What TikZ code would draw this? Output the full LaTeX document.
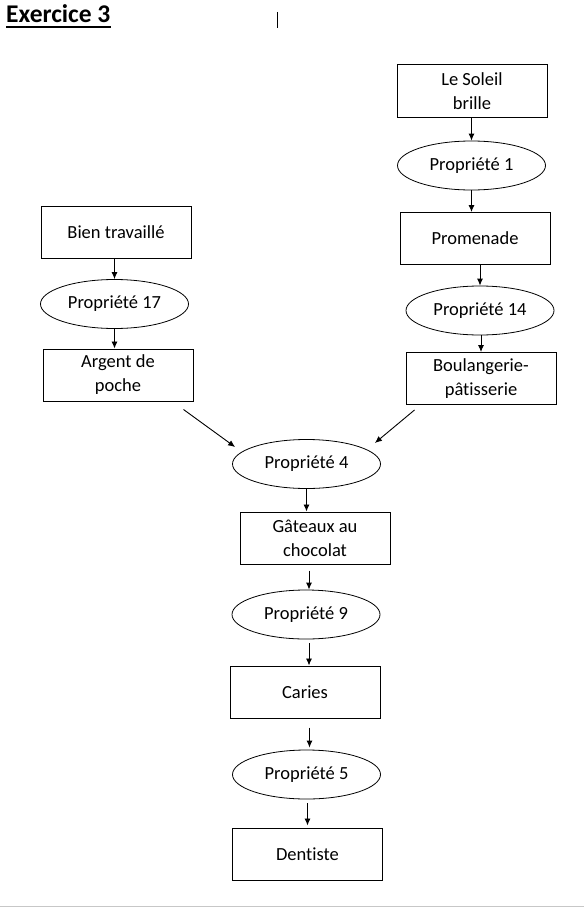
\documentclass[tikz,border=0pt]{standalone}
\usepackage{fontspec}
\setmainfont{Carlito}[Ligatures={NoCommon}]
\usetikzlibrary{shapes.geometric,arrows.meta}

\begin{document}
\begin{tikzpicture}[x=1pt,y=-1pt,
    box/.style={draw, line width=1pt, minimum width=150pt, minimum height=52pt,
        inner sep=0pt, align=center, font=\fontsize{18.5}{24}\selectfont},
    prop/.style={draw, ellipse, line width=0.8pt, minimum width=148pt,
        minimum height=49pt, inner sep=0pt, font=\fontsize{18.5}{24}\selectfont},
    arr/.style={-{Latex[length=7pt,width=6pt]}, line width=0.9pt}]
        \useasboundingbox (0,0) rectangle (584,907);
        %% Title
        \node[anchor=base west, inner sep=0pt, font=\fontsize{25.5}{28}\selectfont\bfseries]
            (titre) at (6,23) {Exercice 3};
        \draw[line width=2pt] ([yshift=-4pt]titre.base west) -- ([yshift=-4pt]titre.base east);
        \draw[line width=1pt] (277,12) -- (277,28);
        %% Right column
        \node[box] (soleil) at (472,91) {Le Soleil\\brille};
        \node[prop] (p1) at (471.5,165.5) {Propriété 1};
        \node[box] (promenade) at (475,238.5) {Promenade};
        \node[prop] (p14) at (480,310.5) {Propriété 14};
        \node[box] (boulangerie) at (481,378.5) {Boulangerie-\\pâtisserie};
        %% Left column
        \node[box] (bien) at (116,232.5) {Bien travaillé};
        \node[prop] (p17) at (114.5,304) {Propriété 17};
        \node[box] (argent) at (118,375) {Argent de\\poche};
        %% Middle column
        \node[prop] (p4) at (306.5,464) {Propriété 4};
        \node[box] (gateaux) at (315,538) {Gâteaux au\\chocolat};
        \node[prop] (p9) at (306,614.5) {Propriété 9};
        \node[box] (caries) at (305,692) {Caries};
        \node[prop] (p5) at (306.5,774.5) {Propriété 5};
        \node[box] (dentiste) at (307.5,854) {Dentiste};
        %% Arrows
        \draw[arr] (p1.north |- soleil.south) -- (p1.north);
        \draw[arr] (p1.south) -- (p1.south |- promenade.north);
        \draw[arr] (p14.north |- promenade.south) -- (p14.north);
        \draw[arr] (boulangerie.north |- p14.south) -- (boulangerie.north);
        \draw[arr] (p17.north |- bien.south) -- (p17.north);
        \draw[arr] (p17.south) -- (p17.south |- argent.north);
        \draw[arr] ([xshift=-10pt,yshift=-8pt]argent.south east) -- ([xshift=3pt,yshift=17pt]p4.west);
        \draw[arr] ([xshift=9pt,yshift=-5pt]boulangerie.south west) -- ([xshift=-6pt,yshift=21pt]p4.east);
        \draw[arr] (p4.south) -- (p4.south |- gateaux.north);
        \draw[arr, shorten <=6pt] ([xshift=3pt]p9.north |- gateaux.south) -- ([xshift=3pt]p9.north);
        \draw[arr, shorten <=4pt] ([xshift=3pt]p9.south) -- ([xshift=3pt]p9.south |- caries.north);
        \draw[arr, shorten <=9pt, shorten >=2pt] ([xshift=3pt]p5.north |- caries.south) -- ([xshift=3pt]p5.north);
        \draw[arr, shorten <=4pt, shorten >=2pt] (dentiste.north |- p5.south) -- (dentiste.north);
        %% Page edge
        \draw[line width=1pt, black!22] (0,906) -- (584,906);
    \end{tikzpicture}
\end{document}
